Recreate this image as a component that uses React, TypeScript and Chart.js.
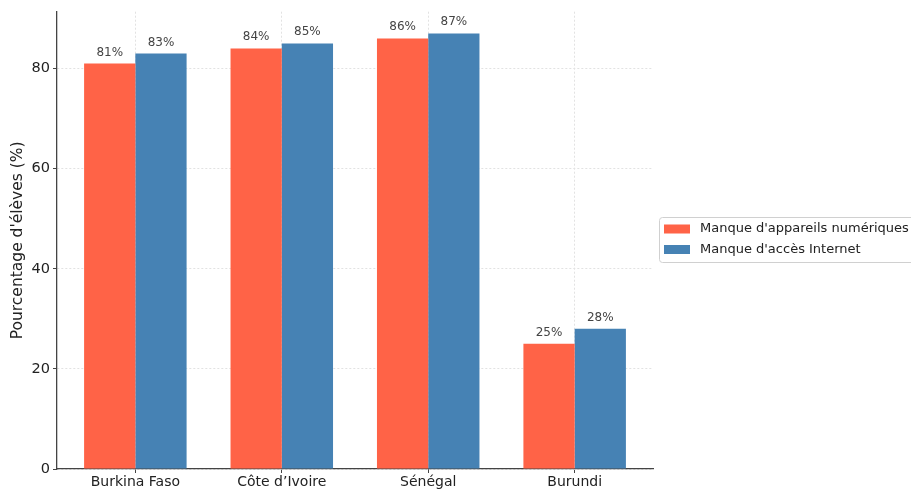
import React, { useEffect, useRef } from "react";
import { Chart, registerables } from "chart.js";

Chart.register(...registerables);

const countries = ["Burkina Faso", "Côte d\u2019Ivoire", "Sénégal", "Burundi"];
const devicesLack = [81, 84, 86, 25];
const internetLack = [83, 85, 87, 28];
const seriesNames = ["Manque d'appareils numériques", "Manque d'accès Internet"];
const yTicks = [0, 20, 40, 60, 80];
const yLabel = "Pourcentage d'élèves (%)";

const ORANGE = "#FF6347";
const BLUE = "#4682B4";
const FONT = "'DejaVu Sans', sans-serif";

const extras = {
  id: "extras",
  afterDatasetsDraw(chart: any) {
    const { ctx } = chart;
    ctx.save();
    // value labels above each bar
    ctx.font = `12px ${FONT}`;
    ctx.fillStyle = "#444";
    ctx.textAlign = "center";
    ctx.textBaseline = "alphabetic";
    chart.data.datasets.forEach((ds: any, di: number) => {
      const meta = chart.getDatasetMeta(di);
      meta.data.forEach((bar: any, i: number) => {
        const v = ds.data[i].y;
        ctx.fillText(`${v}%`, bar.x, bar.y - 8);
      });
    });
    // rotated y-axis title
    ctx.font = `15.5px ${FONT}`;
    ctx.fillStyle = "#222";
    ctx.translate(18, (chart.chartArea.top + chart.chartArea.bottom) / 2);
    ctx.rotate(-Math.PI / 2);
    ctx.textAlign = "center";
    ctx.textBaseline = "middle";
    ctx.fillText(yLabel, 0, 0);
    ctx.restore();

    // legend box
    ctx.save();
    const lx = 659.5;
    const ly = 217.5;
    const lw = 260;
    const lh = 45;
    ctx.strokeStyle = "#d0d0d0";
    ctx.lineWidth = 1;
    ctx.fillStyle = "rgba(255,255,255,0.8)";
    ctx.beginPath();
    ctx.roundRect(lx, ly, lw, lh, 3);
    ctx.fill();
    ctx.stroke();
    ctx.font = `13px ${FONT}`;
    ctx.textAlign = "left";
    ctx.textBaseline = "middle";
    chart.data.datasets.forEach((ds: any, di: number) => {
      const cy = ly + 11.5 + di * 20.5;
      ctx.fillStyle = ds.backgroundColor;
      ctx.fillRect(664, cy - 4.5, 26, 9);
      ctx.fillStyle = "#222";
      ctx.fillText(ds.label, 700, cy);
    });
    ctx.restore();
  },
};

export default function App() {
  const ref = useRef<HTMLCanvasElement>(null);

  useEffect(() => {
    if (!ref.current) return;
    const toPoints = (vals: number[]) => vals.map((y, i) => ({ x: i, y }));
    const chart = new Chart(ref.current, {
      type: "bar",
      data: {
        datasets: [
          {
            label: seriesNames[0],
            data: toPoints(devicesLack),
            backgroundColor: ORANGE,
            categoryPercentage: 0.7,
            barPercentage: 1.0,
          },
          {
            label: seriesNames[1],
            data: toPoints(internetLack),
            backgroundColor: BLUE,
            categoryPercentage: 0.7,
            barPercentage: 1.0,
          },
        ] as any,
      },
      plugins: [extras],
      options: {
        animation: false,
        responsive: false,
        maintainAspectRatio: false,
        layout: { padding: { top: 8, right: 258, left: 0, bottom: 0 } },
        plugins: {
          legend: { display: false },
          tooltip: { enabled: false },
        },
        scales: {
          x: {
            type: "linear",
            min: -0.535,
            max: 3.535,
            offset: false,
            afterBuildTicks(scale: any) {
              scale.ticks = countries.map((_, i) => ({ value: i }));
            },
            afterFit(scale: any) {
              scale.height = 24;
            },
            ticks: {
              font: { family: FONT, size: 14 },
              color: "#222",
              padding: 1,
              maxRotation: 0,
              autoSkip: false,
              callback: (v: any) => countries[Math.round(v)] ?? "",
            },
            grid: {
              offset: false,
              color: "#e2e2e2",
              lineWidth: 1,
              tickLength: 4,
              tickColor: "#444",
              drawTicks: true,
            },
            border: { color: "#444", width: 1.3, dash: [2, 2] },
          },
          y: {
            min: 0,
            max: 91.35,
            afterBuildTicks(scale: any) {
              scale.ticks = yTicks.map((v) => ({ value: v }));
            },
            afterFit(scale: any) {
              scale.width = 57;
            },
            ticks: {
              font: { family: FONT, size: 14.5 },
              color: "#222",
              padding: 3,
            },
            grid: {
              color: "#e2e2e2",
              lineWidth: 1,
              tickLength: 4,
              tickColor: "#444",
            },
            border: { color: "#444", width: 1.3, dash: [2, 2] },
          },
        },
      } as any,
    });
    return () => chart.destroy();
  }, []);

  return (
    <div style={{ position: "fixed", left: 0, top: 0, width: 911, height: 493, background: "#fff" }}>
      <canvas ref={ref} width={911} height={493} style={{ width: 911, height: 493 }} />
    </div>
  );
}
